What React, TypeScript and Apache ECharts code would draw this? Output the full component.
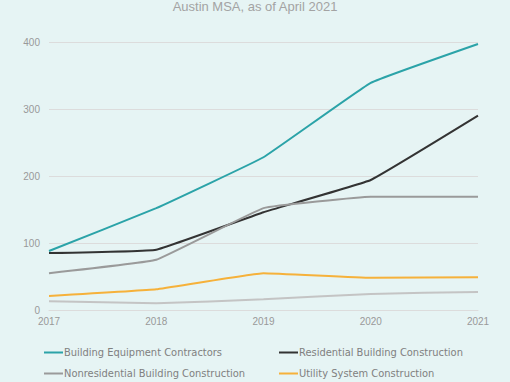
import React, { useEffect, useRef } from "react";
import * as echarts from "echarts";

const years = ["2017", "2018", "2019", "2020", "2021"];
const seriesNames = [
  "Building Equipment Contractors",
  "Residential Building Construction",
  "Nonresidential Building Construction",
  "Utility System Construction",
  "Other",
];
const buildingEquipment = [88, 152, 228, 339, 397];
const residential = [85, 90, 146, 194, 290];
const nonresidential = [55, 75, 152, 169, 169];
const utility = [21, 31, 55, 48, 49];
const other = [13, 10, 16, 24, 27];
const colors = ["#2ba3a8", "#333333", "#9a9a9a", "#f6b13a", "#c4c4c4"];

export default function App() {
  const ref = useRef<HTMLDivElement>(null);
  useEffect(() => {
    if (!ref.current) return;
    const chart = echarts.init(ref.current, null, { renderer: "svg" });
    const font = "'DejaVu Sans Condensed', 'Liberation Sans Narrow', sans-serif";
    const data = [buildingEquipment, residential, nonresidential, utility, other];
    const legendPos = [
      [44, 347],
      [279, 347],
      [44, 368],
      [279, 368],
    ];
    chart.setOption({
      animation: false,
      backgroundColor: "#e6f4f4",
      title: {
        text: "Austin MSA, as of April 2021",
        left: "center",
        top: -5,
        textStyle: { color: "#a3a3a3", fontSize: 13, fontWeight: "normal", fontFamily: "'Liberation Sans', sans-serif" },
      },
      grid: { left: 49, right: 32, top: 42, bottom: 72 },
      xAxis: {
        type: "category",
        data: years,
        boundaryGap: false,
        axisLine: { lineStyle: { color: "#dcdcdc" } },
        axisTick: { show: false },
        axisLabel: { color: "#999", fontSize: 10, margin: 6, fontFamily: "'Liberation Sans', sans-serif" },
      },
      yAxis: {
        type: "value",
        min: 0,
        max: 400,
        interval: 100,
        axisLine: { show: false },
        axisTick: { show: false },
        splitLine: { lineStyle: { color: "#dcdcdc" } },
        axisLabel: { color: "#999", fontSize: 10, margin: 9, fontFamily: "'Liberation Sans', sans-serif" },
      },
      legend: legendPos.map((p, i) => ({
        data: [seriesNames[i]],
        left: p[0],
        top: p[1],
        padding: 0,
        itemWidth: 19,
        itemHeight: 2,
        icon: "rect",
        textStyle: { color: "#808080", fontSize: 11, fontFamily: font, padding: [0, 0, 0, -4] },
      })),
      series: data.map((d, i) => ({
        name: seriesNames[i],
        type: "line",
        data: d,
        smooth: 0.08,
        showSymbol: false,
        symbol: "none",
        color: colors[i],
        lineStyle: { width: 2, color: colors[i] },
      })),
    });
    return () => chart.dispose();
  }, []);
  return <div ref={ref} style={{ width: 510, height: 382, position: "absolute", left: 0, top: 0 }} />;
}
